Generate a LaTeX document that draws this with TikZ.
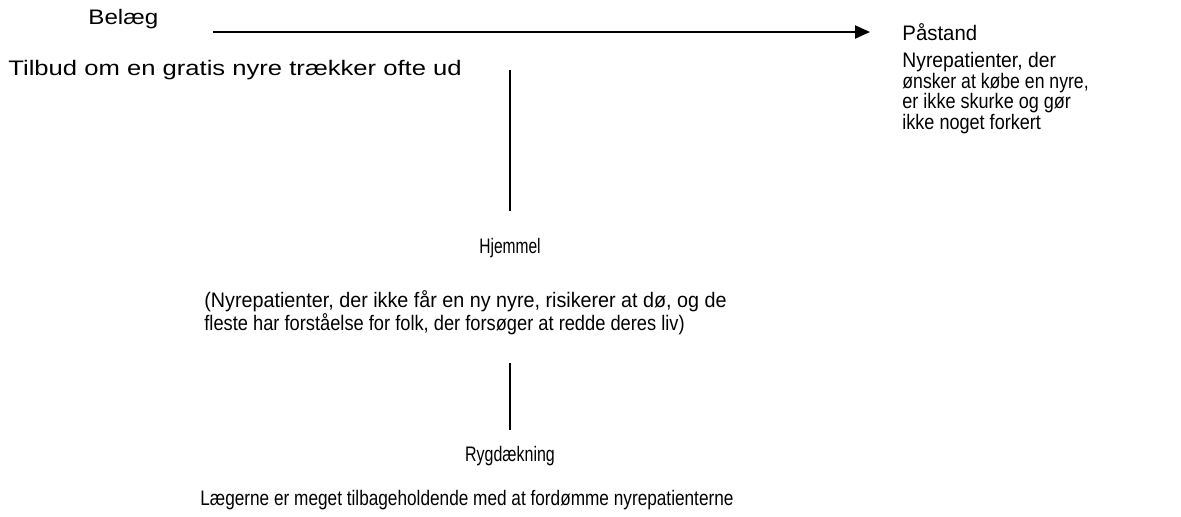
\documentclass[tikz,border=0pt]{standalone}
\usepackage{fontspec}
\usepackage{graphicx}
\setmainfont{Liberation Sans}
\usetikzlibrary{arrows.meta}
\newcommand{\sx}[2]{\scalebox{#1}[1]{#2}}
\begin{document}
\begin{tikzpicture}[x=0.5pt,y=-0.5pt,
  txt/.style={inner sep=0pt, font=\fontsize{10.5}{10.5}\selectfont},
  conn/.style={line width=1pt},
  arr/.style={conn,-{Triangle[length=7.5pt,width=6.5pt]}}]
\useasboundingbox (0,0) rectangle (1181,516);
% data
\node[txt,anchor=west] (belaeg) at (88,19) {\sx{1.15}{Belæg}};
\node[txt,anchor=west] (data) at (8,70) {\sx{1.22}{Tilbud om en gratis nyre trækker ofte ud}};
% claim
\node[txt,anchor=west] (paastand) at (902,32) {\sx{0.97}{Påstand}};
\node[txt,anchor=north west,align=left,font=\fontsize{10.5}{10.25}\selectfont] (claim) at (902,52)
  {\sx{0.92}{Nyrepatienter, der}\\ \sx{0.84}{ønsker at købe en nyre,}\\ \sx{0.86}{er ikke skurke og gør}\\ \sx{0.86}{ikke noget forkert}};
% warrant
\node[txt,anchor=center] (hjemmel) at (510,248) {\sx{0.74}{Hjemmel}};
\node[txt,anchor=north west,align=left,font=\fontsize{10.5}{10.5}\selectfont] (warrant) at (204,290)
  {\sx{0.94}{(Nyrepatienter, der ikke får en ny nyre, risikerer at dø, og de}\\ \sx{0.87}{fleste har forståelse for folk, der forsøger at redde deres liv)}};
% backing
\node[txt,anchor=center] (ryg) at (510,456) {\sx{0.76}{Rygdækning}};
\node[txt,anchor=west] (backing) at (200,500) {\sx{0.82}{Lægerne er meget tilbageholdende med at fordømme nyrepatienterne}};
% connectors
\coordinate (aS) at (213,32);
\coordinate (aE) at (870,32);
\draw[arr] (aS) -- (aE);
\coordinate (v1a) at (510,70);
\coordinate (v1b) at (510,211);
\draw[conn] (v1a) -- (v1b);
\coordinate (v2a) at (510,363);
\coordinate (v2b) at (510,430);
\draw[conn] (v2a) -- (v2b);
\end{tikzpicture}
\end{document}
